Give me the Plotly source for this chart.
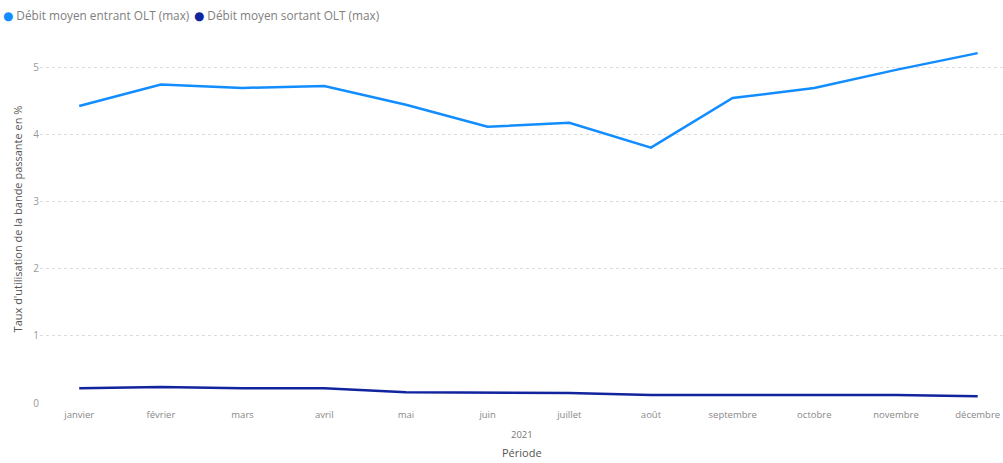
import plotly.graph_objects as go

mois = ["janvier", "février", "mars", "avril", "mai", "juin", "juillet",
        "août", "septembre", "octobre", "novembre", "décembre"]
entrant = [4.43, 4.75, 4.70, 4.73, 4.45, 4.12, 4.18, 3.81, 4.55, 4.70, 4.97, 5.22]
sortant = [0.22, 0.24, 0.22, 0.22, 0.16, 0.15, 0.15, 0.12, 0.12, 0.12, 0.12, 0.10]
yticks = [0, 1, 2, 3, 4, 5]

noms = ["Débit moyen entrant OLT (max)", "Débit moyen sortant OLT (max)"]
couleurs = ["#118DFF", "#12239E"]

fig = go.Figure()
for vals, nom, c in zip([entrant, sortant], noms, couleurs):
    fig.add_trace(go.Scatter(x=mois, y=vals, mode="lines", name=nom,
                             showlegend=False, line=dict(color=c, width=2.5)))

font_family = "Open Sans, DejaVu Sans, sans-serif"
fig.update_layout(
    width=1003, height=463,
    margin=dict(l=40, r=0, t=35, b=60, autoexpand=False),
    paper_bgcolor="white", plot_bgcolor="white",
    font=dict(family=font_family, color="#777777", size=10),
    showlegend=False,
    xaxis=dict(type="category", range=[-0.48, 11.31], showgrid=False,
               zeroline=False, showline=False, ticks="", automargin=False,
               ticklabelstandoff=4,
               tickfont=dict(size=9.5, color="#888888")),
    yaxis=dict(range=[0, 5.49], tickvals=yticks, showgrid=True,
               gridcolor="#dddddd", griddash="dot", gridwidth=1,
               zeroline=False, showline=False, ticks="", automargin=False,
               tickfont=dict(size=10, color="#999999"),
               title=dict(text="Taux d'utilisation de la bande passante en %",
                          font=dict(size=11, color="#555555"), standoff=8)),
)

# legend drawn as annotations (circle + label), positioned in paper units
leg_x = [-0.041, 0.158]
for lx, nom, c in zip(leg_x, noms, couleurs):
    fig.add_annotation(text=f'<span style="color:{c}">●</span> {nom}',
                       x=lx, y=1.054, xref="paper", yref="paper",
                       showarrow=False, font=dict(size=11.8, color="#808080"),
                       xanchor="left", yanchor="middle")

fig.add_annotation(text="2021", x=0.5, y=-0.062, xref="paper", yref="paper",
                   showarrow=False, font=dict(size=9.5, color="#777777"),
                   xanchor="center", yanchor="top")
fig.add_annotation(text="Période", x=0.5, y=-0.109, xref="paper", yref="paper",
                   showarrow=False, font=dict(size=11, color="#555555"),
                   xanchor="center", yanchor="top")

fig.write_html("out.html", config={"displayModeBar": False},
               post_script="document.body.style.margin='0';")
